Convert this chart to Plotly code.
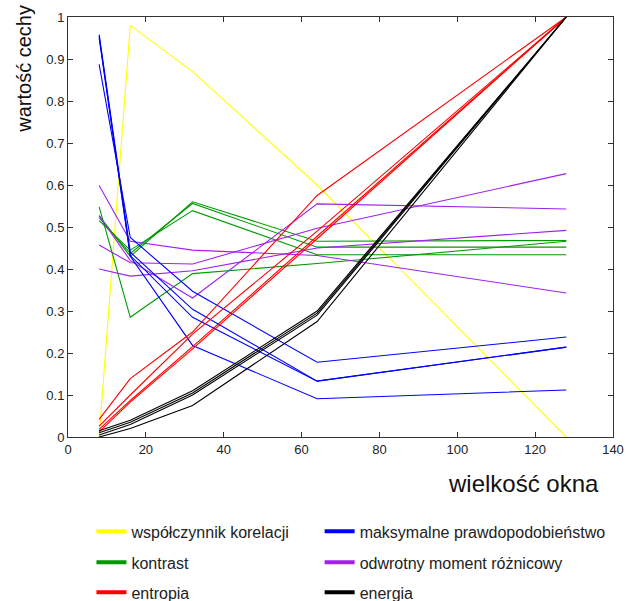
import plotly.graph_objects as go

# Window sizes (x axis)
window_sizes = [8, 16, 32, 64, 128]

# Feature values per window size, one list per analysed image
wspolczynnik_korelacji = [
    [0.0, 0.98, 0.87, 0.60, 0.0],
]
kontrast = [
    [0.548, 0.285, 0.389, 0.413, 0.466],
    [0.527, 0.430, 0.560, 0.466, 0.468],
    [0.522, 0.437, 0.556, 0.452, 0.452],
    [0.515, 0.445, 0.539, 0.434, 0.434],
]
odwrotny_moment = [
    [0.599, 0.466, 0.445, 0.432, 0.343],
    [0.527, 0.420, 0.331, 0.555, 0.543],
    [0.457, 0.415, 0.412, 0.497, 0.627],
    [0.400, 0.383, 0.396, 0.450, 0.492],
]
maks_prawdopodobienstwo = [
    [0.887, 0.475, 0.347, 0.178, 0.238],
    [0.958, 0.440, 0.304, 0.133, 0.214],
    [0.955, 0.432, 0.285, 0.133, 0.214],
    [0.950, 0.430, 0.218, 0.091, 0.112],
]
entropia = [
    [0.042, 0.139, 0.250, 0.575, 1.0],
    [0.026, 0.100, 0.245, 0.490, 1.0],
    [0.018, 0.087, 0.215, 0.478, 1.0],
    [0.012, 0.083, 0.210, 0.472, 1.0],
]
energia = [
    [0.005, 0.030, 0.100, 0.290, 1.0],
    [0.010, 0.035, 0.105, 0.295, 1.0],
    [0.015, 0.040, 0.110, 0.300, 1.0],
    [0.000, 0.020, 0.075, 0.275, 1.0],
]

x_ticks = [0, 20, 40, 60, 80, 100, 120, 140]
y_ticks = [0, 0.1, 0.2, 0.3, 0.4, 0.5, 0.6, 0.7, 0.8, 0.9, 1]

# (label, colour, data, legend id, legend column, legend row)
series = [
    ("współczynnik korelacji", "#FFFF00", wspolczynnik_korelacji, "legend", 0, 0),
    ("kontrast", "#009900", kontrast, "legend2", 0, 1),
    ("odwrotny moment różnicowy", "#A020F0", odwrotny_moment, "legend3", 1, 1),
    ("maksymalne prawdopodobieństwo", "#0000FF", maks_prawdopodobienstwo, "legend4", 1, 0),
    ("entropia", "#FF0000", entropia, "legend5", 0, 2),
    ("energia", "#000000", energia, "legend6", 1, 2),
]

fig = go.Figure()

for name, color, rows, leg, col, row in series:
    for values in rows:
        fig.add_trace(go.Scatter(
            x=window_sizes, y=values, mode="lines",
            line=dict(color=color, width=1.1),
            showlegend=False, hoverinfo="skip",
        ))

# Legend entries with thick swatches, one small legend per entry
for name, color, rows, leg, col, row in series:
    fig.add_trace(go.Scatter(
        x=[None], y=[None], mode="lines", name=name,
        line=dict(color=color, width=4),
        legend=leg, showlegend=True,
    ))

FONT = "Liberation Sans, Arial, sans-serif"
TXT = "#222222"

col_x = [0.043, 0.4617]
row_y = [-0.2247, -0.2985, -0.370]

legends = {}
for name, color, rows, leg, col, row in series:
    legends[leg] = dict(
        orientation="h", xanchor="left", yanchor="middle",
        x=col_x[col], y=row_y[row],
        font=dict(family=FONT, size=16, color=TXT),
        bgcolor="rgba(0,0,0,0)", borderwidth=0, itemclick=False,
    )

fig.update_layout(
    width=628, height=601,
    margin=dict(l=68, r=15, t=17, b=164, autoexpand=False),
    paper_bgcolor="white", plot_bgcolor="white",
    font=dict(family=FONT, color=TXT),
    xaxis=dict(
        range=[0, 140], tickvals=x_ticks, ticks="inside", ticklen=5,
        tickcolor="#333", showline=True, linecolor="#333", linewidth=1,
        mirror="allticks", showgrid=False, zeroline=False,
        tickfont=dict(family=FONT, size=13, color=TXT),
    ),
    yaxis=dict(
        range=[0, 1], tickvals=y_ticks, ticks="inside", ticklen=5,
        tickcolor="#333", showline=True, linecolor="#333", linewidth=1,
        mirror="allticks", showgrid=False, zeroline=False,
        tickfont=dict(family=FONT, size=13, color=TXT),
    ),
    annotations=[
        dict(text="wartość cechy", xref="paper", yref="paper",
             x=-0.0814, y=0.876, textangle=-90, showarrow=False,
             xanchor="center", yanchor="middle",
             font=dict(family=FONT, size=20, color="#111")),
        dict(text="wielkość okna", xref="paper", yref="paper",
             x=0.835, y=-0.1106, showarrow=False,
             xanchor="center", yanchor="middle",
             font=dict(family=FONT, size=24, color="#111")),
    ],
    **legends,
)

fig.write_html("out.html")
